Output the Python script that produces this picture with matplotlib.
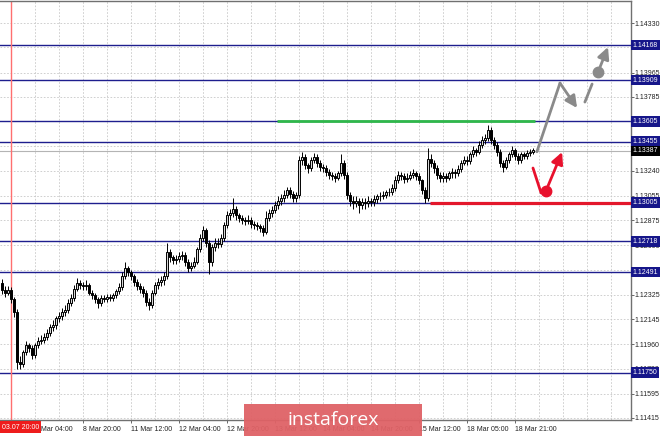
import numpy as np
import matplotlib
matplotlib.use("Agg")
import matplotlib.pyplot as plt
import matplotlib.transforms as mtransforms
from matplotlib.patches import Rectangle

# hourly EURUSD candles (open of each bar = previous close)
first_open = 1.1241
closes = [1.1236, 1.1234, 1.1236, 1.1229, 1.1220, 1.1183, 1.1181, 1.1190, 1.1195, 1.1193,
          1.1188, 1.1195, 1.1198, 1.1199, 1.1201, 1.1204, 1.1209, 1.1210, 1.1215, 1.1217,
          1.1220, 1.1221, 1.1226, 1.1230, 1.1237, 1.1241, 1.1240, 1.1239, 1.1240, 1.1234,
          1.1232, 1.1229, 1.1226, 1.1230, 1.1229, 1.1231, 1.1230, 1.1232, 1.1235, 1.1238,
          1.1246, 1.1252, 1.1249, 1.1246, 1.1242, 1.1239, 1.1237, 1.1234, 1.1227, 1.1225,
          1.1234, 1.1240, 1.1242, 1.1243, 1.1246, 1.1264, 1.1260, 1.1258, 1.1259, 1.1261,
          1.1262, 1.1257, 1.1252, 1.1254, 1.1257, 1.1266, 1.1274, 1.1280, 1.1271, 1.1257,
          1.1268, 1.1271, 1.1270, 1.1274, 1.1284, 1.1291, 1.1293, 1.1296, 1.1291, 1.1289,
          1.1288, 1.1287, 1.1288, 1.1285, 1.1284, 1.1283, 1.1282, 1.1279, 1.1289, 1.1293,
          1.1295, 1.1299, 1.1302, 1.1304, 1.1306, 1.1310, 1.1307, 1.1304, 1.1306, 1.1332,
          1.1334, 1.1328, 1.1326, 1.1332, 1.1334, 1.1330, 1.1327, 1.1326, 1.1323, 1.1321,
          1.1320, 1.1319, 1.1322, 1.1330, 1.1321, 1.1306, 1.1302, 1.1300, 1.1302, 1.1299,
          1.1301, 1.1300, 1.1302, 1.1301, 1.1303, 1.1305, 1.1305, 1.1306, 1.1308, 1.1308,
          1.1311, 1.1317, 1.1321, 1.1320, 1.1318, 1.1319, 1.1321, 1.1322, 1.1320, 1.1317,
          1.1310, 1.1304, 1.1333, 1.1330, 1.1326, 1.1321, 1.1319, 1.1320, 1.1319, 1.1322,
          1.1323, 1.1322, 1.1325, 1.1330, 1.1332, 1.1331, 1.1336, 1.1339, 1.1338, 1.1343,
          1.1347, 1.1348, 1.1354, 1.1347, 1.1343, 1.1338, 1.1330, 1.1327, 1.1332, 1.1336,
          1.1339, 1.1335, 1.1332, 1.1336, 1.1335, 1.1337, 1.1338, 1.1339]
highs = [1.1244, 1.1239, 1.1239, 1.1238, 1.1231, 1.1222, 1.1187, 1.1192, 1.1198, 1.1197,
         1.1195, 1.1197, 1.1201, 1.1203, 1.1204, 1.1207, 1.1211, 1.1214, 1.1217, 1.1220,
         1.1223, 1.1225, 1.1229, 1.1233, 1.1240, 1.1245, 1.1243, 1.1242, 1.1243, 1.1241,
         1.1236, 1.1234, 1.1231, 1.1232, 1.1232, 1.1233, 1.1233, 1.1234, 1.1237, 1.1241,
         1.1249, 1.1257, 1.1254, 1.1251, 1.1248, 1.1244, 1.1241, 1.1239, 1.1236, 1.1230,
         1.1236, 1.1242, 1.1245, 1.1246, 1.1249, 1.1271, 1.1266, 1.1262, 1.1262, 1.1264,
         1.1265, 1.1264, 1.1259, 1.1257, 1.1260, 1.1268, 1.1277, 1.1283, 1.1282, 1.1273,
         1.1270, 1.1274, 1.1274, 1.1277, 1.1286, 1.1294, 1.1296, 1.1304, 1.1298, 1.1293,
         1.1291, 1.1290, 1.1291, 1.1290, 1.1287, 1.1286, 1.1285, 1.1284, 1.1294, 1.1296,
         1.1298, 1.1302, 1.1305, 1.1307, 1.1310, 1.1312, 1.1312, 1.1309, 1.1308, 1.1335,
         1.1338, 1.1336, 1.1330, 1.1334, 1.1337, 1.1336, 1.1332, 1.1329, 1.1328, 1.1325,
         1.1323, 1.1322, 1.1324, 1.1336, 1.1332, 1.1323, 1.1308, 1.1305, 1.1305, 1.1304,
         1.1304, 1.1304, 1.1305, 1.1304, 1.1306, 1.1307, 1.1308, 1.1309, 1.1310, 1.1311,
         1.1314, 1.1320, 1.1324, 1.1323, 1.1322, 1.1322, 1.1324, 1.1325, 1.1324, 1.1322,
         1.1318, 1.1312, 1.1341, 1.1336, 1.1332, 1.1328, 1.1323, 1.1323, 1.1322, 1.1324,
         1.1326, 1.1325, 1.1328, 1.1332, 1.1335, 1.1335, 1.1338, 1.1342, 1.1341, 1.1346,
         1.1350, 1.1351, 1.1358, 1.1356, 1.1349, 1.1345, 1.1340, 1.1332, 1.1334, 1.1338,
         1.1342, 1.1341, 1.1337, 1.1338, 1.1338, 1.1339, 1.1340, 1.1341]
lows = [1.1233, 1.1231, 1.1232, 1.1226, 1.1216, 1.1178, 1.1178, 1.1179, 1.1188, 1.1190,
        1.1185, 1.1186, 1.1193, 1.1196, 1.1197, 1.1199, 1.1202, 1.1206, 1.1207, 1.1212,
        1.1214, 1.1217, 1.1219, 1.1224, 1.1228, 1.1235, 1.1237, 1.1236, 1.1236, 1.1232,
        1.1229, 1.1226, 1.1223, 1.1224, 1.1227, 1.1227, 1.1228, 1.1228, 1.1230, 1.1233,
        1.1236, 1.1244, 1.1246, 1.1243, 1.1239, 1.1236, 1.1234, 1.1231, 1.1224, 1.1221,
        1.1223, 1.1232, 1.1237, 1.1239, 1.1240, 1.1244, 1.1257, 1.1255, 1.1255, 1.1257,
        1.1258, 1.1254, 1.1249, 1.1250, 1.1252, 1.1255, 1.1264, 1.1272, 1.1268, 1.1248,
        1.1254, 1.1265, 1.1267, 1.1268, 1.1272, 1.1282, 1.1288, 1.1290, 1.1288, 1.1286,
        1.1285, 1.1284, 1.1285, 1.1282, 1.1281, 1.1280, 1.1279, 1.1276, 1.1277, 1.1287,
        1.1290, 1.1293, 1.1296, 1.1299, 1.1301, 1.1304, 1.1304, 1.1301, 1.1301, 1.1304,
        1.1328, 1.1325, 1.1322, 1.1324, 1.1330, 1.1327, 1.1324, 1.1323, 1.1320, 1.1318,
        1.1317, 1.1316, 1.1317, 1.1320, 1.1318, 1.1303, 1.1298, 1.1296, 1.1297, 1.1293,
        1.1296, 1.1296, 1.1297, 1.1298, 1.1298, 1.1300, 1.1302, 1.1303, 1.1304, 1.1305,
        1.1306, 1.1309, 1.1315, 1.1317, 1.1315, 1.1316, 1.1317, 1.1319, 1.1317, 1.1314,
        1.1307, 1.1300, 1.1302, 1.1327, 1.1322, 1.1318, 1.1316, 1.1316, 1.1316, 1.1317,
        1.1319, 1.1319, 1.1320, 1.1323, 1.1328, 1.1328, 1.1329, 1.1334, 1.1335, 1.1336,
        1.1341, 1.1344, 1.1346, 1.1344, 1.1340, 1.1335, 1.1327, 1.1323, 1.1325, 1.1330,
        1.1334, 1.1332, 1.1329, 1.1330, 1.1333, 1.1333, 1.1335, 1.1336]

levels = [1.14168, 1.13909, 1.13605, 1.13455, 1.13005, 1.12718, 1.12491, 1.11750]
last_price = 1.13387
price_ticks = [1.11415, 1.11595, 1.11780, 1.11960, 1.12145, 1.12325, 1.12510, 1.12690,
               1.12875, 1.13055, 1.13240, 1.13420, 1.13605, 1.13785, 1.13965, 1.14150, 1.14330]
date_ticks = [11, 27, 43, 59, 75, 91, 107, 123, 139, 155, 171]
date_labels = ["8 Mar 04:00", "8 Mar 20:00", "11 Mar 12:00", "12 Mar 04:00", "12 Mar 20:00",
               "13 Mar 12:00", "14 Mar 04:00", "14 Mar 20:00", "15 Mar 12:00",
               "18 Mar 05:00", "18 Mar 21:00"]
cursor_bar = 3
cursor_label = "03.07 20:00"

# resistance (green) and support (red) segments: (start bar, end bar, price)
green_seg = (91.7, 177.7, 1.13605)
red_seg = (142.7, 209.7, 1.13005)

# forecast sketch (bar, price)
gray_up = [(178.3, 1.1338), (186.0, 1.13887)]
gray_pullback = [(186.0, 1.13887), (191.7, 1.13703)]
gray_up2 = [(194.3, 1.13747), (196.7, 1.1388)]
gray_final = [(198.7, 1.13969), (202.0, 1.14153)]
red_down = [(177.0, 1.1326), (179.7, 1.13076)]
red_up = [(181.3, 1.1309), (186.7, 1.13378)]

FONT = ["Liberation Sans", "DejaVu Sans"]
FS = 5.0

W, H = 665, 436
fig = plt.figure(figsize=(W / 100, H / 100), dpi=100)
fig.patch.set_facecolor("white")
ax = fig.add_axes([0, 16 / H, 631 / W, 419 / H])
ax.set_xlim(-0.667, 209.67)
ax.set_ylim(1.11400, 1.14493)

# grid
for gx in np.arange(3, 210, 8):
    ax.axvline(gx, color="#c8c8c8", lw=0.6, ls=(0, (2, 2)), zorder=0)
for gy in price_ticks:
    ax.axhline(gy, color="#c8c8c8", lw=0.6, ls=(0, (2, 2)), zorder=0)

# candles
opens = [first_open] + closes[:-1]
idx = np.arange(len(closes))
o = np.array(opens)
c = np.array(closes)
ax.vlines(idx, lows, highs, color="black", lw=0.7, zorder=3)
bull = c >= o
bottoms = np.minimum(o, c)
heights = np.maximum(np.abs(c - o), 0.00003)
ax.bar(idx[bull], heights[bull], bottom=bottoms[bull], width=0.7,
       facecolor="#d8d8d8", edgecolor="black", linewidth=0.7, zorder=4)
ax.bar(idx[~bull], heights[~bull], bottom=bottoms[~bull], width=0.7,
       facecolor="black", edgecolor="black", linewidth=0.7, zorder=4)

# levels
for lv in levels:
    ax.axhline(lv, color="#1e1e8e", lw=1.0, zorder=2)
ax.axhline(last_price, color="#b4b4b4", lw=0.8, zorder=1)
ax.plot(green_seg[:2], [green_seg[2]] * 2, color="#2fb84a", lw=2.0, zorder=5,
        solid_capstyle="butt")
ax.plot(red_seg[:2], [red_seg[2]] * 2, color="#e3172b", lw=2.3, zorder=5,
        solid_capstyle="butt")
ax.axvline(cursor_bar, color="#ff6f6f", lw=1.0, zorder=2)

# forecast arrows
gray = "#8a8a8a"
red = "#e8112d"
for seg, col in [(gray_up, gray), (gray_up2, gray), (red_down, red)]:
    ax.plot([p[0] for p in seg], [p[1] for p in seg], color=col, lw=2.0, zorder=6,
            solid_capstyle="round")
for seg, col in [(gray_pullback, gray), (gray_final, gray), (red_up, red)]:
    ax.annotate("", xy=seg[1], xytext=seg[0], zorder=6,
                arrowprops=dict(arrowstyle="-|>,head_length=0.7,head_width=0.35",
                                color=col, lw=2.0, shrinkA=0, shrinkB=0))
ax.plot(gray_final[0][0], gray_final[0][1], "o", color=gray, ms=7.5, zorder=7)
ax.plot(red_up[0][0], red_up[0][1], "o", color=red, ms=7.5, zorder=7)

# axes look
ax.spines["left"].set_visible(False)
for s in ["top", "right", "bottom"]:
    ax.spines[s].set_color("#707070")
    ax.spines[s].set_linewidth(1.0)
ax.yaxis.tick_right()
ax.set_yticks(price_ticks)
ax.set_yticklabels([f"{v:.5f}" for v in price_ticks], family=FONT)
ax.set_xticks(date_ticks)
ax.set_xticklabels(date_labels, family=FONT)
for lbl in ax.get_xticklabels():
    lbl.set_ha("left")
ax.tick_params(axis="y", length=2, width=0.6, color="#505050", labelsize=FS,
               labelcolor="#222222", pad=0.8)
ax.tick_params(axis="x", length=2.5, width=0.6, color="#505050", labelsize=FS,
               labelcolor="#222222", pad=1.5)

# price boxes on the right axis
trans = mtransforms.blended_transform_factory(ax.transAxes, ax.transData)
for lv in levels:
    ax.text(1.003, lv, f"{lv:.5f}", transform=trans, fontsize=FS, color="white",
            family=FONT, va="center", ha="left", clip_on=False, zorder=10,
            bbox=dict(boxstyle="square,pad=0.25", fc="#16168a", ec="none"))
ax.text(1.003, last_price, f"{last_price:.5f}", transform=trans, fontsize=FS,
        color="white", family=FONT, va="center", ha="left", clip_on=False, zorder=10,
        bbox=dict(boxstyle="square,pad=0.25", fc="black", ec="none"))

# cursor date box
fig.text(1.5 / W, 1 - 427 / H, cursor_label, fontsize=FS, color="white", family=FONT,
         va="center", ha="left",
         bbox=dict(boxstyle="square,pad=0.3", fc="#ee1c1c", ec="none"), zorder=10)

# watermark
fig.patches.append(Rectangle((244 / W, 0), 178 / W, 32 / H, transform=fig.transFigure,
                             facecolor="#df6266", edgecolor="none", alpha=0.95,
                             zorder=20))
fig.text(333 / W, 16 / H, "instaforex", fontsize=14, color="white",
         family=["Open Sans", "DejaVu Sans"], ha="center", va="center", zorder=21)

fig.savefig("out.png", dpi=100)
